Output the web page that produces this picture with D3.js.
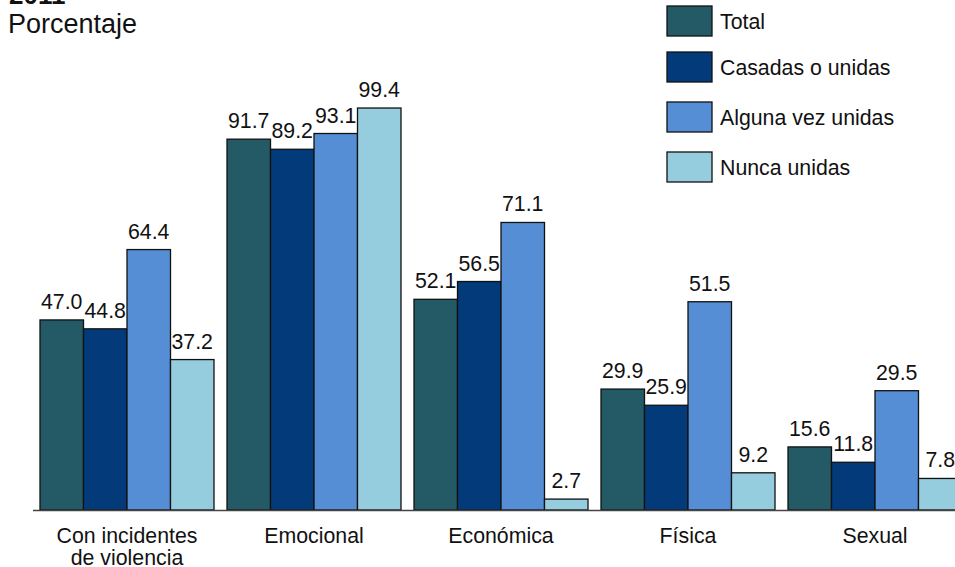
<!DOCTYPE html>
<html><head><meta charset="utf-8">
<script src="https://cdn.jsdelivr.net/npm/d3@7"></script>
<style>html,body{margin:0;padding:0;background:#fff;overflow:hidden}</style>
</head><body>
<svg id="c" width="955" height="567"></svg>
<script>
const categories = [["Con incidentes","de violencia"],["Emocional"],["Económica"],["Física"],["Sexual"]];
const series = ["Total","Casadas o unidas","Alguna vez unidas","Nunca unidas"];
const total = [47.0, 91.7, 52.1, 29.9, 15.6];
const casadas = [44.8, 89.2, 56.5, 25.9, 11.8];
const alguna = [64.4, 93.1, 71.1, 51.5, 29.5];
const nunca = [37.2, 99.4, 2.7, 9.2, 7.8];
const colors = ["#245A66","#023A7A","#568ED6","#95CDDF"];
const values = [total, casadas, alguna, nunca];

const svg = d3.select("#c");
const font = "'Liberation Sans', Arial, sans-serif";
const fs = 21.3;
const catKeys = categories.map(c => c.join(" "));
const x = d3.scaleBand().domain(catKeys).range([33.5, 968.5]).paddingInner(13/187).paddingOuter(6.5/187);
const xs = d3.scaleBand().domain(series).range([0, x.bandwidth()]);
const y = d3.scaleLinear().domain([0, 100]).range([510, 105.6]);

const data = [];
catKeys.forEach((c, i) => series.forEach((s, j) => data.push({c, s, v: values[j][i], j})));

svg.selectAll("rect.bar").data(data).join("rect")
  .attr("class","bar")
  .attr("x", d => x(d.c) + xs(d.s))
  .attr("y", d => y(d.v))
  .attr("width", xs.bandwidth())
  .attr("height", d => y(0) - y(d.v))
  .attr("fill", d => colors[d.j])
  .attr("stroke", "#111").attr("stroke-width", 1.3);

svg.selectAll("text.val").data(data).join("text")
  .attr("x", d => x(d.c) + xs(d.s) + xs.bandwidth()/2)
  .attr("y", d => y(d.v) - 11)
  .attr("text-anchor","middle")
  .attr("font-family", font).attr("font-size", fs).attr("fill","#111")
  .text(d => d.v.toFixed(1));

svg.append("line").attr("x1", 33).attr("x2", 955).attr("y1", 510.5).attr("y2", 510.5)
  .attr("stroke","#444").attr("stroke-width",1.5);

categories.forEach((lines, i) => {
  const t = svg.append("text").attr("text-anchor","middle")
    .attr("font-family", font).attr("font-size", fs).attr("fill","#111");
  lines.forEach((l, k) => t.append("tspan").attr("x", x(catKeys[i]) + x.bandwidth()/2).attr("y", 542.5 + k*22).text(l));
});

svg.append("text").attr("x", 9).attr("y", 4).attr("font-family", font).attr("font-weight","bold").attr("font-size", 26).attr("fill","#111").text("2011");
svg.append("text").attr("x", 8).attr("y", 33).attr("font-family", font).attr("font-size", 27).attr("fill","#111").text("Porcentaje");

const ly = [6, 52, 102, 152];
series.forEach((s, i) => {
  svg.append("rect").attr("x", 667).attr("y", ly[i]).attr("width", 45).attr("height", 30)
    .attr("fill", colors[i]).attr("stroke","#111").attr("stroke-width",1.3);
  svg.append("text").attr("x", 720).attr("y", ly[i] + 22.5).attr("font-family", font).attr("font-size", fs).attr("fill","#111").text(s);
});
</script>
</body></html>
